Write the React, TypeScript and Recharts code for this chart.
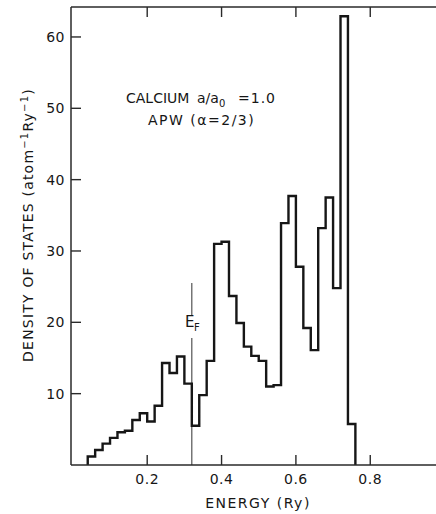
import { ComposedChart, Line, XAxis, YAxis, ReferenceLine } from 'recharts'

// histogram bin edges (Ry) and density of states per bin (atom^-1 Ry^-1)
const binEdges = [
  0.04, 0.06, 0.08, 0.10, 0.12, 0.14, 0.16, 0.18, 0.20, 0.22, 0.24, 0.26,
  0.28, 0.30, 0.32, 0.34, 0.36, 0.38, 0.40, 0.42, 0.44, 0.46, 0.48, 0.50,
  0.52, 0.54, 0.56, 0.58, 0.60, 0.62, 0.64, 0.66, 0.68, 0.70, 0.72, 0.74, 0.76,
]
const dosValues = [
  1.2, 2.1, 3.0, 3.8, 4.6, 4.8, 6.3, 7.25, 6.1, 8.3, 14.3, 12.9,
  15.2, 11.4, 5.5, 9.8, 14.6, 31.0, 31.3, 23.7, 19.9, 16.6, 15.3, 14.6,
  11.0, 11.2, 33.9, 37.7, 27.8, 19.2, 16.1, 33.2, 37.5, 24.8, 62.9, 5.75,
]
const energyTicks = [0.2, 0.4, 0.6, 0.8]
const dosTicks = [10, 20, 30, 40, 50, 60]
const fermiEnergy = 0.32
// E_F marker is broken around its label
const fermiLower = [0, 17.8]
const fermiUpper = [21.0, 25.5]

const data = [
  { e: binEdges[0], dos: 0 },
  ...dosValues.map((v, i) => ({ e: binEdges[i], dos: v })),
  { e: binEdges[binEdges.length - 1], dos: 0 },
]

const INK = '#161616'
const AXIS = '#2a2a2a'
const FONT = '"DejaVu Sans", Verdana, sans-serif'
const TICK_LEN = 10

function BottomTick({ x, y, payload }: any) {
  return (
    <g>
      <line x1={x} y1={y} x2={x} y2={y - TICK_LEN} stroke={AXIS} strokeWidth={1.4} />
      <text x={x} y={y + 18.5} textAnchor="middle" fontSize={14} fontFamily={FONT} fill={INK} letterSpacing={0.5}>
        {Number(payload.value).toFixed(1)}
      </text>
    </g>
  )
}

function TopTick({ x, y }: any) {
  return <line x1={x} y1={y} x2={x} y2={y + TICK_LEN} stroke={AXIS} strokeWidth={1.4} />
}

function LeftTick({ x, y, payload }: any) {
  return (
    <g>
      <line x1={x} y1={y} x2={x + TICK_LEN} y2={y} stroke={AXIS} strokeWidth={1.4} />
      <text x={x - 6} y={y + 5} textAnchor="end" fontSize={14} fontFamily={FONT} fill={INK} letterSpacing={0.5}>
        {payload.value}
      </text>
    </g>
  )
}

function RightTick({ x, y }: any) {
  return <line x1={x} y1={y} x2={x - TICK_LEN} y2={y} stroke={AXIS} strokeWidth={1.4} />
}

function EnergyLabel() {
  return (
    <text x={258} y={508} textAnchor="middle" fontSize={14} fontFamily={FONT} fill={INK} letterSpacing={1.5}>
      ENERGY (Ry)
    </text>
  )
}

function DosLabel() {
  return (
    <text
      transform="translate(33,225) rotate(-90)"
      textAnchor="middle"
      fontSize={14}
      fontFamily={FONT}
      fill={INK}
      letterSpacing={1.2}
    >
      DENSITY OF STATES (atom
      <tspan dy={-5} fontSize={10}>−1</tspan>
      <tspan dy={5}>Ry</tspan>
      <tspan dy={-5} fontSize={10}>−1</tspan>
      <tspan dy={5}>)</tspan>
    </text>
  )
}

export default function App() {
  return (
    <div
      style={{
        position: 'absolute',
        left: 0,
        top: 0,
        width: 436,
        height: 514,
        overflow: 'hidden',
        background: '#fff',
      }}
    >
      <ComposedChart width={460} height={514} data={data} margin={{ top: 0, right: 0, bottom: 0, left: 0 }}>
        <XAxis
          dataKey="e"
          type="number"
          domain={[-0.005, 1.0]}
          ticks={energyTicks}
          interval={0}
          height={49}
          tickSize={0}
          tickMargin={0}
          tickLine={false}
          tick={<BottomTick />}
          axisLine={{ stroke: AXIS, strokeWidth: 1.5 }}
          label={<EnergyLabel />}
        />
        <XAxis
          xAxisId="top"
          orientation="top"
          dataKey="e"
          type="number"
          domain={[-0.005, 1.0]}
          ticks={energyTicks}
          interval={0}
          height={7}
          tickSize={0}
          tickMargin={0}
          tickLine={false}
          tick={<TopTick />}
          axisLine={{ stroke: AXIS, strokeWidth: 1.5 }}
        />
        <YAxis
          type="number"
          domain={[0, 64.2]}
          ticks={dosTicks}
          interval={0}
          width={71}
          tickSize={0}
          tickMargin={0}
          tickLine={false}
          tick={<LeftTick />}
          axisLine={{ stroke: AXIS, strokeWidth: 1.5 }}
          label={<DosLabel />}
        />
        <YAxis
          yAxisId="right"
          orientation="right"
          type="number"
          domain={[0, 64.2]}
          ticks={dosTicks}
          interval={0}
          width={15.4}
          tickSize={0}
          tickMargin={0}
          tickLine={false}
          tick={<RightTick />}
          axisLine={{ stroke: AXIS, strokeWidth: 1.5 }}
        />
        <ReferenceLine
          segment={[{ x: fermiEnergy, y: fermiLower[0] }, { x: fermiEnergy, y: fermiLower[1] }]}
          stroke="#444"
          strokeWidth={1.1}
        />
        <ReferenceLine
          segment={[{ x: fermiEnergy, y: fermiUpper[0] }, { x: fermiEnergy, y: fermiUpper[1] }]}
          stroke="#444"
          strokeWidth={1.1}
        />
        <Line
          type="stepAfter"
          dataKey="dos"
          stroke={INK}
          strokeWidth={2.4}
          dot={false}
          strokeLinejoin="miter"
          isAnimationActive={false}
        />
      </ComposedChart>
      <svg
        width={436}
        height={514}
        style={{ position: 'absolute', left: 0, top: 0, pointerEvents: 'none' }}
      >
        <text y={103} fontSize={14} fontFamily={FONT} fill={INK}>
          <tspan x={126}>CALCIUM</tspan>
          <tspan x={197}>a/a</tspan>
          <tspan dy={4} fontSize={10}>0</tspan>
          <tspan x={238} dy={-4} letterSpacing={1}>=1.0</tspan>
        </text>
        <text x={148} y={125} fontSize={14} fontFamily={FONT} fill={INK} letterSpacing={1.5}>
          APW (α=2/3)
        </text>
        <text x={185} y={327} fontSize={15} fontFamily={FONT} fill={INK}>E</text>
        <text x={194} y={331} fontSize={10} fontFamily={FONT} fill={INK}>F</text>
      </svg>
    </div>
  )
}
